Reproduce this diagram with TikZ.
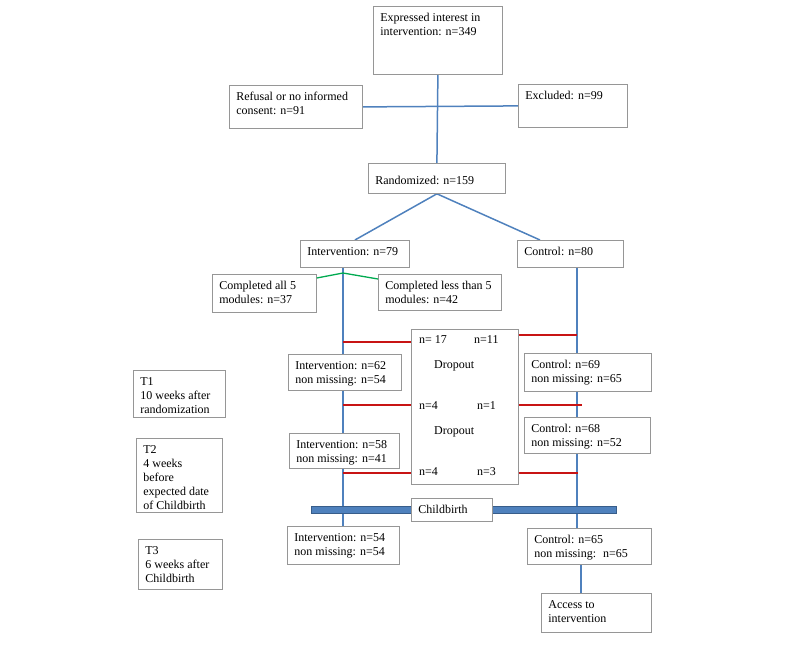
\documentclass[tikz,border=0pt]{standalone}
\usepackage{fontspec}
\setmainfont{Liberation Serif}
\usetikzlibrary{backgrounds}

\definecolor{lineblue}{RGB}{79,129,189}
\definecolor{barblue}{RGB}{79,129,189}
\definecolor{baredge}{RGB}{56,93,138}
\definecolor{dropred}{RGB}{200,20,20}
\definecolor{splitgreen}{RGB}{0,170,80}
\definecolor{boxgray}{RGB}{150,150,150}

% text of a box, top left
\newcommand{\cell}[3]{\parbox[c][#2][t]{#1}{\begin{tabular}[t]{@{}l@{}}#3\end{tabular}}}

\begin{document}
\begin{tikzpicture}[x=1pt,y=-1pt,
  box/.style={draw=boxgray,fill=white,line width=0.8pt,anchor=north west,
    inner xsep=7pt,inner ysep=5pt,font=\fontsize{12}{14}\selectfont},
  note/.style={anchor=west,inner sep=0pt,font=\fontsize{12}{14}\selectfont},
  flow/.style={draw=lineblue,line width=1.5pt},
  lost/.style={draw=dropred,line width=1.5pt},
  split/.style={draw=splitgreen,line width=1.3pt},
  bar/.style={draw=baredge,fill=barblue,line width=0.8pt}]
\useasboundingbox (0,0) rectangle (800,662);

% enrolment
\node[box] (exp) at (373,6) {\cell{115pt}{58pt}{Expressed interest in\\intervention: n=349}};
\node[box] (ref) at (229,85) {\cell{119pt}{33pt}{Refusal or no informed\\consent: n=91}};
\node[box] (exc) at (518,84) {\cell{95pt}{33pt}{Excluded: n=99}};
\node[box] (rand) at (368,163) {\parbox[c][20pt][c]{123pt}{\vspace{4pt}Randomized: n=159}};

% arms
\node[box] (intv) at (300,240) {\cell{95pt}{17pt}{Intervention: n=79}};
\node[box] (ctrl) at (517,240) {\cell{92pt}{17pt}{Control: n=80}};
\node[box] (compA) at (212,274) {\cell{90pt}{28pt}{Completed all 5\\modules: n=37}};
\node[box] (compL) at (378,274) {\cell{109pt}{26pt}{Completed less than 5\\modules: n=42}};

% follow-up
\node[box] (drop) at (411,329) {\cell{93pt}{145pt}{}};
\node[box] (i1) at (288,354) {\cell{99pt}{26pt}{Intervention: n=62\\non missing: n=54}};
\node[box] (c1) at (524,353) {\cell{113pt}{28pt}{Control: n=69\\non missing: n=65}};
\node[box] (i2) at (289,433) {\cell{96pt}{25pt}{Intervention: n=58\\non missing: n=41}};
\node[box] (c2) at (524,417) {\cell{112pt}{26pt}{Control: n=68\\non missing: n=52}};
\node[box] (cb) at (411,498) {\cell{67pt}{13pt}{Childbirth}};
\node[box] (i3) at (287,526) {\cell{98pt}{28pt}{Intervention: n=54\\non missing: n=54}};
\node[box] (c3) at (527,528) {\cell{110pt}{26pt}{Control: n=65\\non missing:~ n=65}};
\node[box] (acc) at (541,593) {\cell{96pt}{29pt}{Access to\\intervention}};

% time points
\node[box] (t1) at (133,370) {\cell{78pt}{37pt}{T1\\10 weeks after\\randomization}};
\node[box] (t2) at (136,438) {\cell{72pt}{64pt}{T2\\4 weeks\\before\\expected date\\of Childbirth}};
\node[box] (t3) at (138,539) {\cell{70pt}{40pt}{T3\\6 weeks after\\Childbirth}};

% dropout counts
\node[note] (n17) at (419,340) {n= 17};
\node[note] (n11) at (474,340) {n=11};
\node[note] (dropA) at (434,366) {Dropout};
\node[note] (n4a) at (419,406) {n=4};
\node[note] (n1) at (477,406) {n=1};
\node[note] (dropB) at (434,432) {Dropout};
\node[note] (n4b) at (419,472) {n=4};
\node[note] (n3) at (477,472) {n=3};

\coordinate (split) at (343,273);
\coordinate (dl1) at (343,342);
\coordinate (dr1) at (577,335);
\coordinate (dl2) at (343,405);
\coordinate (dr2) at (582,405);
\coordinate (dl3) at (343,473);
\coordinate (dr3) at (578,473);
\coordinate (barL) at (311,509.5);
\coordinate (barR) at (616,509.5);

\begin{pgfonlayer}{background}
\draw[flow] (exp.south) -- (rand.north);
\draw[flow] (ref.east) -- (exc.west);
\draw[flow] (rand.south) -- (intv.north);
\draw[flow] (rand.south) -- ([xshift=23pt]ctrl.north west);
\draw[flow] ([xshift=43pt]intv.south west) -- ([xshift=56pt]i3.north west);
\draw[flow] ([xshift=60pt]ctrl.south west) -- ([xshift=50pt]c3.north west);
\draw[flow] ([xshift=54pt]c3.south west) -- ([xshift=40pt]acc.north west);
% childbirth bars
\draw[bar] ([yshift=3.5pt]barL) rectangle ([yshift=-3.5pt]cb.west);
\draw[bar] ([yshift=3.5pt]cb.east) rectangle ([yshift=-3.5pt]barR);
\end{pgfonlayer}

\draw[split] ([yshift=-4pt]compA.north east) -- (split) -- ([yshift=-5pt]compL.north west);

\draw[lost] (dl1) -- (dl1 -| drop.west);
\draw[lost] (dr1 -| drop.east) -- (dr1);
\draw[lost] (dl2) -- (dl2 -| drop.west);
\draw[lost] (dr2 -| drop.east) -- (dr2);
\draw[lost] (dl3) -- (dl3 -| drop.west);
\draw[lost] (dr3 -| drop.east) -- (dr3);
\end{tikzpicture}
\end{document}
